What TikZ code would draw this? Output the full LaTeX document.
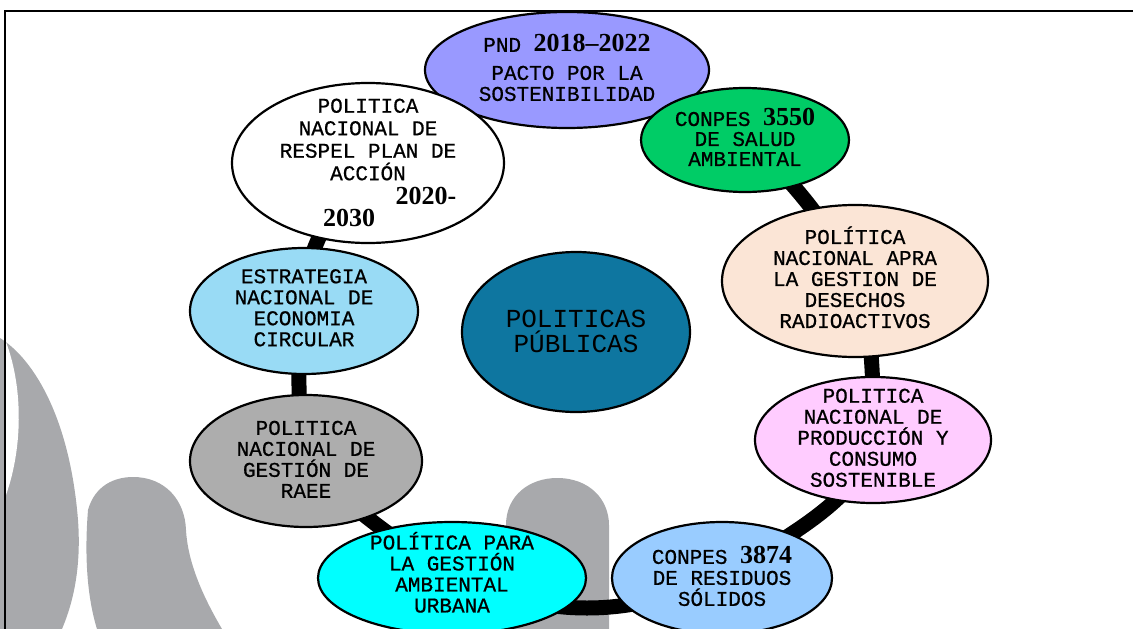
\documentclass[tikz,border=0pt]{standalone}
\usepackage{fontspec}
\setmainfont{Liberation Mono}[FakeBold=0.7]
\newfontfamily\plainmono{Liberation Mono}
\newfontfamily\numfont{Liberation Serif}
\usetikzlibrary{shapes.geometric}
\pgfdeclarelayer{background}
\pgfsetlayers{background,main}
\definecolor{bggray}{HTML}{A8A9AC}
\definecolor{pndc}{HTML}{9999FF}
\definecolor{salud}{HTML}{00CC66}
\definecolor{apra}{HTML}{FBE5D6}
\definecolor{prod}{HTML}{FFCCFF}
\definecolor{resid}{HTML}{99CCFF}
\definecolor{urb}{HTML}{00FFFF}
\definecolor{raee}{HTML}{ADADAD}
\definecolor{econ}{HTML}{99DBF5}
\definecolor{centro}{HTML}{0E76A0}
\newcommand{\nm}[1]{{\numfont\bfseries\fontsize{26}{26}\selectfont #1}}
\newcommand{\ztext}[2][-3pt]{\smash{\raisebox{#1}{\makebox[0pt]{\parbox{400pt}{\centering\lineskiplimit=-100pt\lineskip=0pt #2}}}}}
\begin{document}
\begin{tikzpicture}[x=1pt,y=-1pt,
  oval/.style={ellipse, draw=black, line width=2.2pt, inner sep=0pt,
    font=\fontsize{21}{21}\selectfont},
  ringline/.style={line width=15pt, black, line join=round},
  frameline/.style={line width=2pt, black}]
\useasboundingbox (0,0) rectangle (1133,629);
\begin{pgfonlayer}{background}
% background silhouettes
\fill[bggray] (0,338) .. controls (35,360) and (70,420) .. (78,520)
  .. controls (82,575) and (70,610) .. (62,629) -- (0,629) -- cycle;
\fill[white] (6,342) .. controls (24,390) and (22,450) .. (6,495) -- cycle;
\fill[bggray] (97,629) .. controls (88,600) and (84,560) .. (88,510)
  .. controls (95,485) and (115,477) .. (133,477)
  .. controls (165,477) and (185,500) .. (186,530)
  .. controls (188,565) and (205,600) .. (222,629) -- cycle;
\fill[bggray] (506,629) -- (506,525) .. controls (506,495) and (530,478) .. (557,478)
  .. controls (590,478) and (609,500) .. (609,525) -- (609,629) -- cycle;
% frame
\draw[frameline] (5,629) -- (5,10.5) -- (1133,10.5);
\end{pgfonlayer}
% nodes
\node[oval, fill=pndc, minimum width=284pt, minimum height=116pt] (pnd) at (567,70)
  {\ztext[-3pt]{PND \nm{2018–2022}\\[7pt]PACTO POR LA\\SOSTENIBILIDAD}};
\node[oval, fill=white, minimum width=272pt, minimum height=160pt] (respel) at (368,163)
  {\ztext[-5pt]{\baselineskip=22.5pt POLITICA\\NACIONAL DE\\RESPEL PLAN DE\\ACCIÓN\\[1.5pt]\hspace*{116pt}\nm{2020-}\\\nm{2030}\hspace*{38pt}}};
\node[oval, fill=salud, minimum width=208pt, minimum height=104pt] (salud) at (745,140)
  {\ztext[-2.5pt]{CONPES \nm{3550}\\[-1pt]DE SALUD\\[-1pt]AMBIENTAL}};
\node[oval, fill=apra, minimum width=266pt, minimum height=152pt] (apra) at (855,281)
  {\ztext[-1.5pt]{POLÍTICA\\NACIONAL APRA\\LA GESTION DE\\DESECHOS\\RADIOACTIVOS}};
\node[oval, fill=prod, minimum width=236pt, minimum height=126pt] (prod) at (873,440)
  {\ztext[-3pt]{POLITICA\\NACIONAL DE\\PRODUCCIÓN Y\\CONSUMO\\SOSTENIBLE}};
\node[oval, fill=resid, minimum width=220pt, minimum height=112pt] (resid) at (722,578)
  {\ztext[-3.5pt]{CONPES \nm{3874}\\DE RESIDUOS\\SÓLIDOS}};
\node[oval, fill=urb, minimum width=268pt, minimum height=112pt] (urb) at (452,578)
  {\ztext[0.5pt]{POLÍTICA PARA\\LA GESTIÓN\\AMBIENTAL\\URBANA}};
\node[oval, fill=raee, minimum width=232pt, minimum height=132pt] (raee) at (306,461)
  {\ztext[-3.5pt]{POLITICA\\NACIONAL DE\\GESTIÓN DE\\RAEE}};
\node[oval, fill=econ, minimum width=228pt, minimum height=126pt] (econ) at (304,311)
  {\ztext[-2pt]{ESTRATEGIA\\NACIONAL DE\\ECONOMIA\\CIRCULAR}};
\node[oval, fill=centro, minimum width=228pt, minimum height=160pt,
  font=\plainmono\fontsize{26}{25}\selectfont] (centro) at (576,332)
  {\ztext[-5.5pt]{POLITICAS\\PÚBLICAS}};
% ring connector behind the ellipses
\begin{pgfonlayer}{background}
\draw[ringline] (pnd.center) .. controls +(60,10) and +(-40,-30) .. (salud.center)
  .. controls +(40,30) and +(-20,-50) .. (apra.center)
  .. controls +(20,50) and +(0,-50) .. (prod.center)
  .. controls +(-10,60) and +(60,-40) .. (resid.center)
  .. controls +(-100,40) and +(100,40) .. (urb.center)
  .. controls +(-50,-35) and +(45,50) .. (raee.center)
  .. controls +(-8,-50) and +(-8,50) .. (econ.center)
  .. controls +(-5,-50) and +(-35,40) .. (respel.center)
  .. controls +(40,-45) and +(-60,20) .. (pnd.center);
\end{pgfonlayer}
\end{tikzpicture}
\end{document}
